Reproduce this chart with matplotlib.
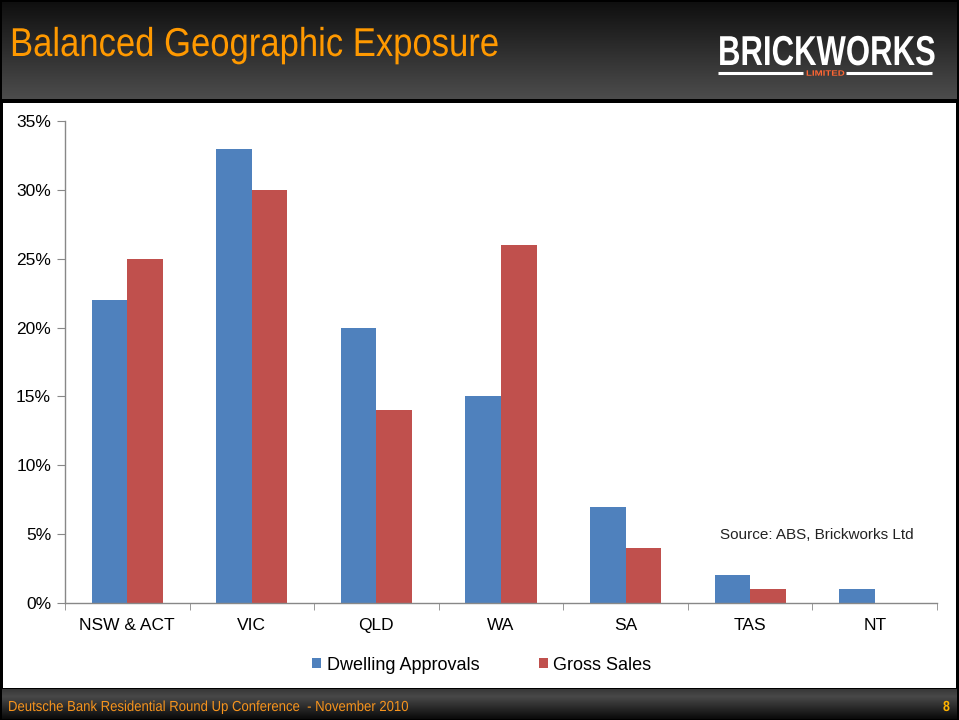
import numpy as np
import matplotlib
matplotlib.use("Agg")
import matplotlib.pyplot as plt
from matplotlib.patches import Rectangle
from matplotlib.ticker import FuncFormatter, FixedLocator
from matplotlib.transforms import Affine2D
from matplotlib import patheffects

categories = ["NSW & ACT", "VIC", "QLD", "WA", "SA", "TAS", "NT"]
dwelling_approvals = [22, 33, 20, 15, 7, 2, 1]
gross_sales = [25, 30, 14, 26, 4, 1, 0]
series_names = ["Dwelling Approvals", "Gross Sales"]
y_ticks = [0, 5, 10, 15, 20, 25, 30, 35]

W, H = 959, 720
fig = plt.figure(figsize=(W / 100, H / 100), dpi=100)
fig.patch.set_facecolor("black")

sans = ["Liberation Sans", "DejaVu Sans"]


class Reshape(patheffects.AbstractPathEffect):
    """Scale glyphs about the text origin (gives a narrow / tall font look)."""

    def __init__(self, sx, sy=1.0):
        super().__init__()
        self.sx = sx
        self.sy = sy

    def draw_path(self, renderer, gc, tpath, affine, rgbFace=None):
        renderer.draw_path(gc, tpath, Affine2D().scale(self.sx, self.sy) + affine, rgbFace)


def fx(px):
    return px / W


def fy(py):
    return 1 - py / H


bg = fig.add_axes([0, 0, 1, 1])
bg.set_xlim(0, W)
bg.set_ylim(H, 0)
bg.axis("off")

grad = np.linspace(0.06, 0.30, 100).reshape(-1, 1)
bg.imshow(np.dstack([grad, grad, grad]), extent=[2, W - 2, 99, 2], aspect="auto", zorder=1)
bg.add_patch(Rectangle((3, 103), W - 6, 585, facecolor="white", edgecolor="none", zorder=1))
fgrad = np.concatenate([np.linspace(0.22, 0.28, 8), np.linspace(0.28, 0.04, 24)]).reshape(-1, 1)
bg.imshow(np.dstack([fgrad, fgrad, fgrad]), extent=[2, W - 2, 719, 689], aspect="auto", zorder=1)

# title
bg.text(10, 56, "Balanced Geographic Exposure", color="#FF9900", fontsize=29,
        family=sans, va="baseline", ha="left", zorder=3,
        path_effects=[Reshape(0.86)])
# logo
bg.text(718, 65, "BRICKWORKS", color="white", fontsize=14, fontweight="bold",
        family=sans, va="baseline", ha="left", zorder=3,
        path_effects=[Reshape(1.6, 2.15)])
bg.plot([718, 803], [72.7, 72.7], color="white", lw=2.2, solid_capstyle="butt", zorder=3)
bg.plot([846, 932], [72.7, 72.7], color="white", lw=2.2, solid_capstyle="butt", zorder=3)
bg.text(806, 75.7, "LIMITED", color="#FF6633", fontsize=4.5, fontweight="bold",
        family=sans, va="baseline", ha="left", zorder=3,
        path_effects=[Reshape(1.55, 1.25)])

# footer
bg.text(8, 711, "Deutsche Bank Residential Round Up Conference  - November 2010",
        color="#F7941D", fontsize=10.5, family=sans, va="baseline", ha="left", zorder=3,
        path_effects=[Reshape(0.9)])
bg.text(943, 711, "8", color="#FFB300", fontsize=10.5, fontweight="bold",
        family=sans, va="baseline", ha="left", zorder=3,
        path_effects=[Reshape(0.85)])

# chart
ax = fig.add_axes([fx(65), fy(603), fx(937) - fx(65), fy(121) - fy(603)])
ax.set_facecolor("white")
x = np.arange(len(categories))
bw = 0.285
ax.bar(x - bw / 2, dwelling_approvals, width=bw, color="#4F81BD", label=series_names[0], zorder=2)
ax.bar(x + bw / 2, gross_sales, width=bw, color="#C0504D", label=series_names[1], zorder=2)
ax.set_xlim(-0.5, len(categories) - 0.5)
ax.set_ylim(0, 35)
ax.set_yticks(y_ticks)
ax.yaxis.set_major_formatter(FuncFormatter(lambda v, p: f"{int(v)}%"))
ax.set_xticks(x)
ax.set_xticklabels(categories)
ax.xaxis.set_minor_locator(FixedLocator(np.arange(-0.5, len(categories), 1.0)))
ax.tick_params(axis="x", which="major", length=0, pad=10.5)
ax.tick_params(axis="x", which="minor", length=5, color="#888888", direction="out")
ax.tick_params(axis="y", length=6, color="#888888", direction="out", pad=4)
for lab in ax.get_xticklabels() + ax.get_yticklabels():
    lab.set_family(sans)
    lab.set_fontsize(12.5)
    lab.set_color("black")
for s in ["top", "right"]:
    ax.spines[s].set_visible(False)
for s in ["left", "bottom"]:
    ax.spines[s].set_color("#888888")
    ax.spines[s].set_linewidth(1)

ax.text(fx(720), fy(535), "Source: ABS, Brickworks Ltd", transform=fig.transFigure,
        fontsize=11, family=sans, color="#222222", va="center", ha="left")

leg = fig.legend(loc="center", bbox_to_anchor=(fx(482), fy(665)), ncol=2, frameon=False,
                 prop={"family": sans, "size": 13}, handlelength=0.5, handleheight=0.5,
                 handletextpad=0.3, columnspacing=3.3)

fig.savefig("out.png", dpi=100, facecolor=fig.get_facecolor())
